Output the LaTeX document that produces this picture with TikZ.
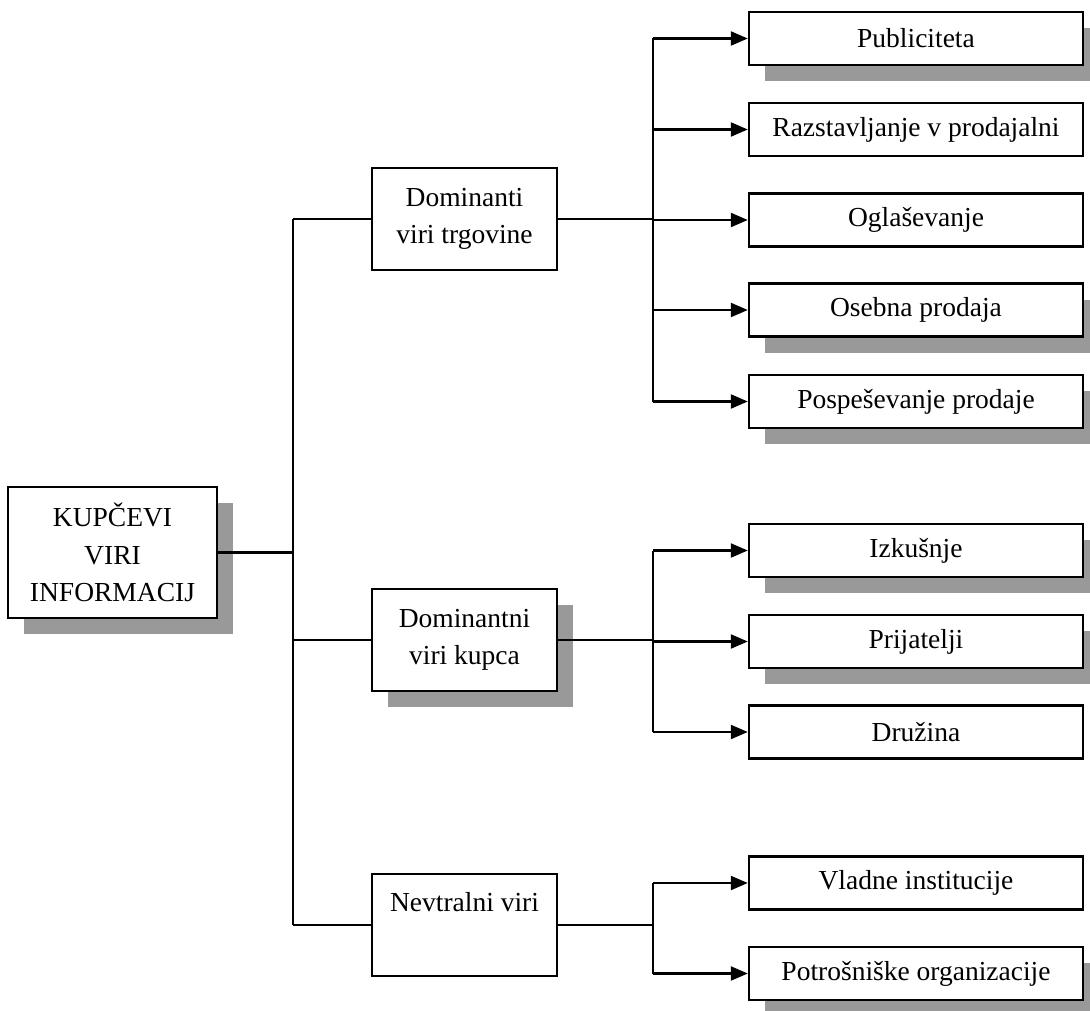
\documentclass[tikz,border=0pt]{standalone}
\usepackage{fontspec}
\setmainfont{Liberation Serif}
\usetikzlibrary{arrows.meta,shadows}
\tikzset{
  box/.style={draw=black, line width=2.4pt, fill=white, inner sep=0pt, align=center,
    font=\fontsize{27.5}{37.5}\selectfont},
  leafbox/.style={box, minimum width=334pt, minimum height=53pt},
  midbox/.style={box, minimum width=185pt, minimum height=102pt},
  rootbox/.style={box, minimum width=209pt, minimum height=131pt},
  shad/.style={drop shadow={shadow xshift=16pt, shadow yshift=-16pt, fill=black!40, opacity=1}},
  conn/.style={line width=2.2pt},
  bus/.style={line width=1.5pt},
  arr/.style={line width=2.2pt, -{Triangle[length=17pt,width=14pt]}}
}
\begin{document}
\begin{tikzpicture}[x=1pt,y=-1pt]
\useasboundingbox (0,0) rectangle (1090,1011);
\clip (0,0) rectangle (1090,1011);
% root
\node[rootbox, shad] (root) at (112.5,552.5) {KUPČEVI\\VIRI\\INFORMACIJ};
% middle
\node[midbox] (dt) at (464.5,219) {Dominanti\\viri trgovine};
\node[midbox, shad] (dk) at (464.5,640) {Dominantni\\viri kupca};
\node[midbox] (nv) at (464.5,925) {Nevtralni viri\\[8pt]\phantom{viri}};
% leaves
\node[leafbox, shad] (r1) at (916,38.5) {Publiciteta};
\node[leafbox] (r2) at (916,129.5) {Razstavljanje v prodajalni};
\node[leafbox] (r3) at (916,220) {Oglaševanje};
\node[leafbox, shad] (r4) at (916,310) {Osebna prodaja};
\node[leafbox, shad] (r5) at (916,401.5) {Pospeševanje prodaje};
\node[leafbox, shad] (k1) at (916,550.5) {Izkušnje};
\node[leafbox, shad] (k2) at (916,641.5) {Prijatelji};
\node[leafbox] (k3) at (916,732) {Družina};
\node[leafbox] (n1) at (916,883) {Vladne institucije};
\node[leafbox, shad] (n2) at (916,973.5) {Potrošniške organizacije};
% bus coordinates
\coordinate (trunk) at (293,0);
\coordinate (bus) at (653,0);
% trunk
\draw[bus] (trunk |- dt.west) -- (trunk |- nv.west);
\draw[conn] (root.east) -- (root.east -| trunk);
\draw[conn] (trunk |- dt.west) -- (dt.west);
\draw[conn] (trunk |- dk.west) -- (dk.west);
\draw[conn] (trunk |- nv.west) -- (nv.west);
% group 1
\draw[conn] (dt.east) -- (dt.east -| bus);
\draw[bus] (bus |- r1.west) -- (bus |- r5.west);
\foreach \n in {r1,r2,r3,r4,r5} \draw[arr] (bus |- \n.west) -- (\n.west);
% group 2
\draw[conn] (dk.east) -- (dk.east -| bus);
\draw[bus] (bus |- k1.west) -- (bus |- k3.west);
\foreach \n in {k1,k2,k3} \draw[arr] (bus |- \n.west) -- (\n.west);
% group 3
\draw[conn] (nv.east) -- (nv.east -| bus);
\draw[bus] (bus |- n1.west) -- (bus |- n2.west);
\foreach \n in {n1,n2} \draw[arr] (bus |- \n.west) -- (\n.west);
\end{tikzpicture}
\end{document}
